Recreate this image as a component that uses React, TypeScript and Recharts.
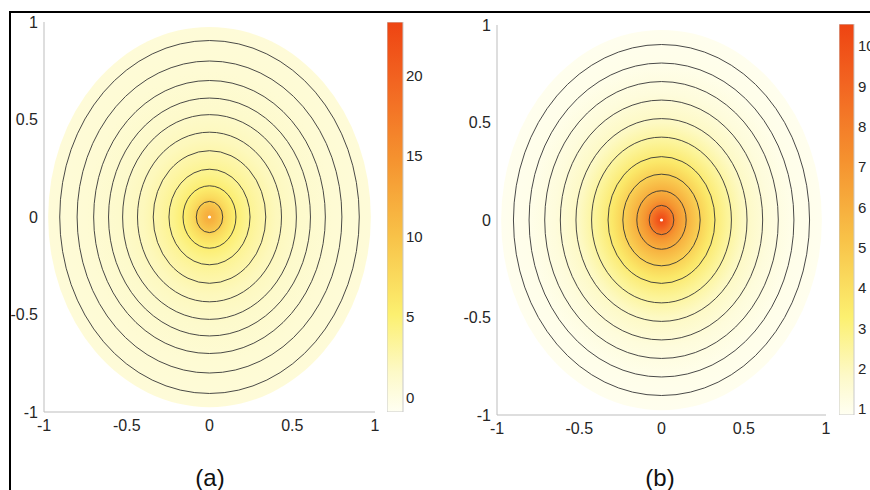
import * as Recharts from "recharts";
import { ScatterChart, Scatter, XAxis, YAxis, BarChart, Bar } from "recharts";

const R: any = Recharts;

const axisTicks = [-1, -0.5, 0, 0.5, 1];
const axisDomain: [number, number] = [-1, 1];

// contour levels, radius of each ring in axis units
const ringsA = [0.08, 0.16, 0.245, 0.34, 0.435, 0.525, 0.61, 0.7, 0.8, 0.905];
const ringsB = [0.075, 0.15, 0.235, 0.325, 0.425, 0.52, 0.615, 0.71, 0.805, 0.9];

// radial profile of the coloured field (distance from centre -> value)
const fieldRadiusA = [0, 0.03, 0.07, 0.1, 0.15, 0.22, 0.3, 0.4, 0.55, 0.75, 0.975];
const fieldValueA = [12.5, 11.5, 9.5, 7.5, 5.5, 4, 3, 2, 1.3, 0.8, 0.6];
const fieldRadiusB = [0, 0.03, 0.07, 0.1, 0.15, 0.22, 0.3, 0.4, 0.5, 0.65, 0.8, 0.975];
const fieldValueB = [10.5, 9.5, 8, 7, 6, 4.8, 3.6, 2.6, 1.9, 1.35, 1.05, 0.95];
const discRadius = 0.975;

// colour bars
const cbRangeA: [number, number] = [-0.9, 23.3];
const cbTicksA = [0, 5, 10, 15, 20];
const cbRangeB: [number, number] = [0.85, 10.55];
const cbTicksB = [1, 2, 3, 4, 5, 6, 7, 8, 9, 10];

// colormap (white -> yellow -> orange -> red)
const cmapPos = [0, 0.1, 0.25, 0.45, 0.65, 0.85, 1];
const cmapColors = ["#fffff2", "#fdf9c8", "#fcf070", "#f8c248", "#f5922f", "#f26421", "#ee4412"];

const FONT = '"Liberation Sans", Arial, sans-serif';

function hex(c: string) {
  return [1, 3, 5].map((i) => parseInt(c.slice(i, i + 2), 16));
}

function cmap(t: number) {
  const v = Math.min(1, Math.max(0, t));
  let i = 0;
  while (i < cmapPos.length - 2 && v > cmapPos[i + 1]) i++;
  const f = (v - cmapPos[i]) / (cmapPos[i + 1] - cmapPos[i]);
  const a = hex(cmapColors[i]);
  const b = hex(cmapColors[i + 1]);
  const m = a.map((x, k) => Math.round(x + (b[k] - x) * f));
  return `rgb(${m[0]},${m[1]},${m[2]})`;
}

function usePlotBox() {
  if (R.usePlotArea) return R.usePlotArea();
  const off = R.useOffset();
  const w = R.useChartWidth();
  const h = R.useChartHeight();
  if (!off || !w || !h) return null;
  return { x: off.left, y: off.top, width: w - off.left - off.right, height: h - off.top - off.bottom };
}

function Ellipse(props: any) {
  const area = usePlotBox();
  const { cx, cy, payload, paint, line } = props;
  if (!area || cx == null || cy == null) return null;
  const span = axisDomain[1] - axisDomain[0];
  return (
    <ellipse
      cx={cx}
      cy={cy}
      rx={(payload.r * area.width) / span}
      ry={(payload.r * area.height) / span}
      fill={paint}
      stroke={line}
      strokeWidth={0.9}
    />
  );
}

function CentreDot(props: any) {
  const { cx, cy } = props;
  if (cx == null) return null;
  return <circle cx={cx} cy={cy} r={1.6} fill="#ffffff" />;
}

type PanelProps = {
  left: number;
  width: number;
  margin: { top: number; right: number; bottom: number; left: number };
  yWidth: number;
  rings: number[];
  fieldRadius: number[];
  fieldValue: number[];
  range: [number, number];
  id: string;
};

function Panel({ left, width, margin, yWidth, rings, fieldRadius, fieldValue, range, id }: PanelProps) {
  const ringData = rings.map((r) => ({ x: 0, y: 0, r }));
  const disc = [{ x: 0, y: 0, r: discRadius }];
  const tick = { fontSize: 16, fill: "#262626", fontFamily: FONT };
  return (
    <div style={{ position: "absolute", left, top: 0 }}>
      <ScatterChart width={width} height={490} margin={margin}>
        <defs>
          <radialGradient id={id} cx="50%" cy="50%" r="50%">
            {fieldRadius.map((r, i) => (
              <stop
                key={i}
                offset={`${(r / discRadius) * 100}%`}
                stopColor={cmap((fieldValue[i] - range[0]) / (range[1] - range[0]))}
              />
            ))}
          </radialGradient>
        </defs>
        <XAxis
          type="number"
          dataKey="x"
          domain={axisDomain}
          ticks={axisTicks}
          height={30}
          tick={tick}
          tickLine={false}
          tickSize={0}
          tickMargin={8}
          axisLine={{ stroke: "#bdbdbd" }}
        />
        <YAxis
          type="number"
          dataKey="y"
          domain={axisDomain}
          ticks={axisTicks}
          width={yWidth}
          tick={tick}
          tickLine={false}
          tickSize={0}
          tickMargin={6}
          axisLine={{ stroke: "#bdbdbd" }}
        />
        <Scatter data={disc} shape={<Ellipse paint={`url(#${id})`} line="none" />} isAnimationActive={false} />
        <Scatter data={ringData} shape={<Ellipse paint="none" line="#353535" />} isAnimationActive={false} />
        <Scatter data={[{ x: 0, y: 0 }]} shape={<CentreDot />} isAnimationActive={false} />
      </ScatterChart>
    </div>
  );
}

type ColorBarProps = {
  left: number;
  top: number;
  barWidth: number;
  axisWidth: number;
  height: number;
  range: [number, number];
  ticks: number[];
  gap: number;
  id: string;
};

function ColorBar({ left, top, barWidth, axisWidth, height, range, ticks, gap, id }: ColorBarProps) {
  const data = [{ name: "cb", span: range }];
  return (
    <div style={{ position: "absolute", left, top: 0 }}>
      <BarChart
        width={barWidth + axisWidth}
        height={490}
        data={data}
        margin={{ top, bottom: 490 - top - height, left: 0, right: 0 }}
        barCategoryGap={0}
      >
        <defs>
          <linearGradient id={id} x1="0" y1="1" x2="0" y2="0">
            {cmapPos.map((p, i) => (
              <stop key={i} offset={`${p * 100}%`} stopColor={cmapColors[i]} />
            ))}
          </linearGradient>
        </defs>
        <XAxis dataKey="name" hide />
        <YAxis
          orientation="right"
          type="number"
          domain={range}
          ticks={ticks}
          width={axisWidth}
          tick={{ fontSize: 15, fill: "#262626", fontFamily: FONT }}
          tickLine={false}
          tickSize={0}
          tickMargin={gap}
          axisLine={false}
          allowDataOverflow
        />
        <Bar dataKey="span" fill={`url(#${id})`} stroke="#c9c9c9" strokeWidth={1} isAnimationActive={false} />
      </BarChart>
    </div>
  );
}

export default function App() {
  return (
    <div
      style={{
        position: "fixed",
        left: 0,
        top: 0,
        width: 870,
        height: 490,
        background: "#ffffff",
        overflow: "hidden",
        fontFamily: FONT,
      }}
    >
      <Panel
        left={0}
        width={400}
        margin={{ top: 22, right: 25, bottom: 48, left: 4 }}
        yWidth={40}
        rings={ringsA}
        fieldRadius={fieldRadiusA}
        fieldValue={fieldValueA}
        range={cbRangeA}
        id="fieldA"
      />
      <ColorBar left={387} top={22} barWidth={16} axisWidth={40} height={390} range={cbRangeA} ticks={cbTicksA} gap={3} id="cbA" />
      <Panel
        left={440}
        width={400}
        margin={{ top: 25, right: 14, bottom: 45, left: 7 }}
        yWidth={50}
        rings={ringsB}
        fieldRadius={fieldRadiusB}
        fieldValue={fieldValueB}
        range={cbRangeB}
        id="fieldB"
      />
      <ColorBar left={839} top={24} barWidth={15} axisWidth={16} height={391} range={cbRangeB} ticks={cbTicksB} gap={4} id="cbB" />
      <svg width={870} height={490} style={{ position: "absolute", left: 0, top: 0, pointerEvents: "none" }}>
        <text x={210} y={486} textAnchor="middle" fontSize={24} fill="#111" fontFamily={FONT}>
          (a)
        </text>
        <text x={660} y={486} textAnchor="middle" fontSize={24} fill="#111" fontFamily={FONT}>
          (b)
        </text>
      </svg>
      <div
        style={{
          position: "absolute",
          left: 9,
          top: 11,
          width: 861,
          height: 479,
          borderTop: "2px solid #000",
          borderLeft: "2px solid #000",
          boxSizing: "border-box",
        }}
      />
    </div>
  );
}
